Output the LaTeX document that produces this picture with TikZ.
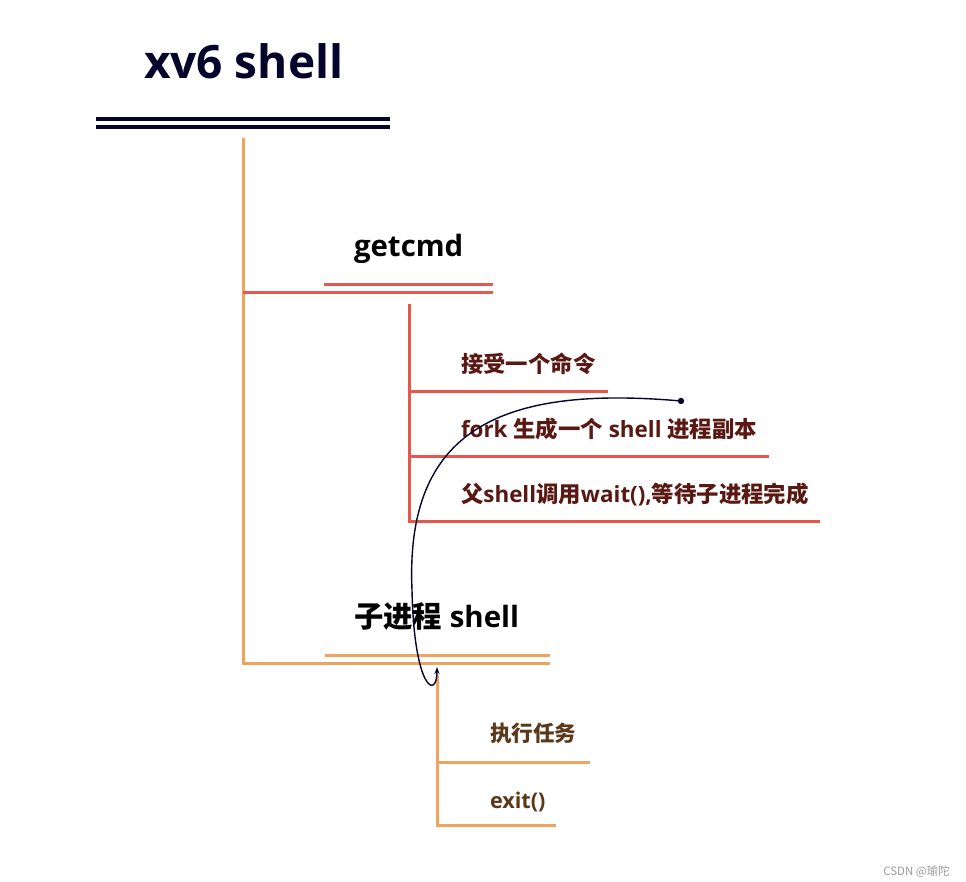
\documentclass[tikz,border=0pt]{standalone}
\usepackage{fontspec}
\setmainfont{Open Sans}
\newfontfamily\cjk{Noto Sans CJK SC}
\usetikzlibrary{arrows.meta}
\definecolor{navy}{HTML}{05052B}
\definecolor{lred}{HTML}{E8574B}
\definecolor{lorange}{HTML}{EEA35E}
\definecolor{itemred}{HTML}{5A1812}
\definecolor{itembrown}{HTML}{5A3818}
\definecolor{wmgray}{HTML}{9A9A9A}
\tikzset{
  txt/.style={anchor=base west, inner sep=0pt, outer sep=0pt},
  titletxt/.style={txt, text=navy, font=\fontsize{46}{50}\selectfont\bfseries},
  headtxt/.style={txt, text=black, font=\fontsize{29.4}{33}\selectfont\bfseries},
  itemtxt/.style={txt, text=itemred, font=\fontsize{22.4}{26}\selectfont\bfseries},
  subtxt/.style={txt, text=itembrown, font=\fontsize{21.6}{25}\selectfont\bfseries},
  wmtxt/.style={anchor=base east, inner sep=0pt, text=wmgray, font=\cjk\fontsize{11.5}{13}\selectfont},
  navyline/.style={draw=navy, line width=3.2pt},
  redline/.style={draw=lred, line width=3pt},
  orangeline/.style={draw=lorange, line width=3pt},
  forkarrow/.style={draw=navy, line width=1.4pt, -{Stealth[length=7pt,width=5pt]}},
}
\begin{document}
\begin{tikzpicture}[x=1pt,y=-1pt]
\useasboundingbox (0,0) rectangle (966,882);
% title
\node[titletxt] (title) at (144,79) {xv6 shell};
\draw[navyline] (96,119) -- (390,119);
\draw[navyline] (96,127) -- (390,127);
% main orange trunk
\coordinate (trunktop) at (243,138);
\coordinate (trunkbot) at (243,663);
\draw[orangeline] (trunktop) -- (trunkbot) -- (550,663);
\draw[orangeline] (325,655) -- (550,655);
% getcmd
\node[headtxt] (getcmd) at (354,257) {getcmd};
\draw[redline] (243,293) -- (493,293);
\draw[redline] (324,285) -- (493,285);
\coordinate (redtop) at (409,304);
\coordinate (redbot) at (409,521);
\draw[redline] (redtop) -- (redbot) -- (820,521);
\draw[redline] (409,391) -- (608,391);
\draw[redline] (409,456) -- (769,456);
\node[itemtxt] (i1) at (461,372) {{\cjk 接受一个命令}};
\node[itemtxt] (i2) at (461,437) {fork {\cjk 生成一个} shell {\cjk 进程副本}};
\node[itemtxt] (i3) at (461,502) {{\cjk 父}shell{\cjk 调用}wait(),{\cjk 等待子进程完成}};
% child shell
\node[headtxt] (child) at (354,627) {{\cjk 子进程} shell};
\coordinate (ctop) at (437,675);
\coordinate (cbot) at (437,825);
\draw[orangeline] (ctop) -- (cbot) -- (556,825);
\draw[orangeline] (437,762) -- (590,762);
\node[subtxt] (s1) at (490,741) {{\cjk 执行任务}};
\node[subtxt] (s2) at (490,808) {exit()};
% fork arrow
\coordinate (dot) at (681,401);
\coordinate (mid) at (412,590);
\coordinate (tip) at (437,667);
\fill[navy] (dot) circle (3.2);
\draw[forkarrow] (dot) .. controls (500,385) and (405,430) .. (mid) .. controls (414,690) and (437,700) .. (tip);
% watermark
\node[wmtxt] (wm) at (950,875) {CSDN @瑜陀};
\end{tikzpicture}
\end{document}
